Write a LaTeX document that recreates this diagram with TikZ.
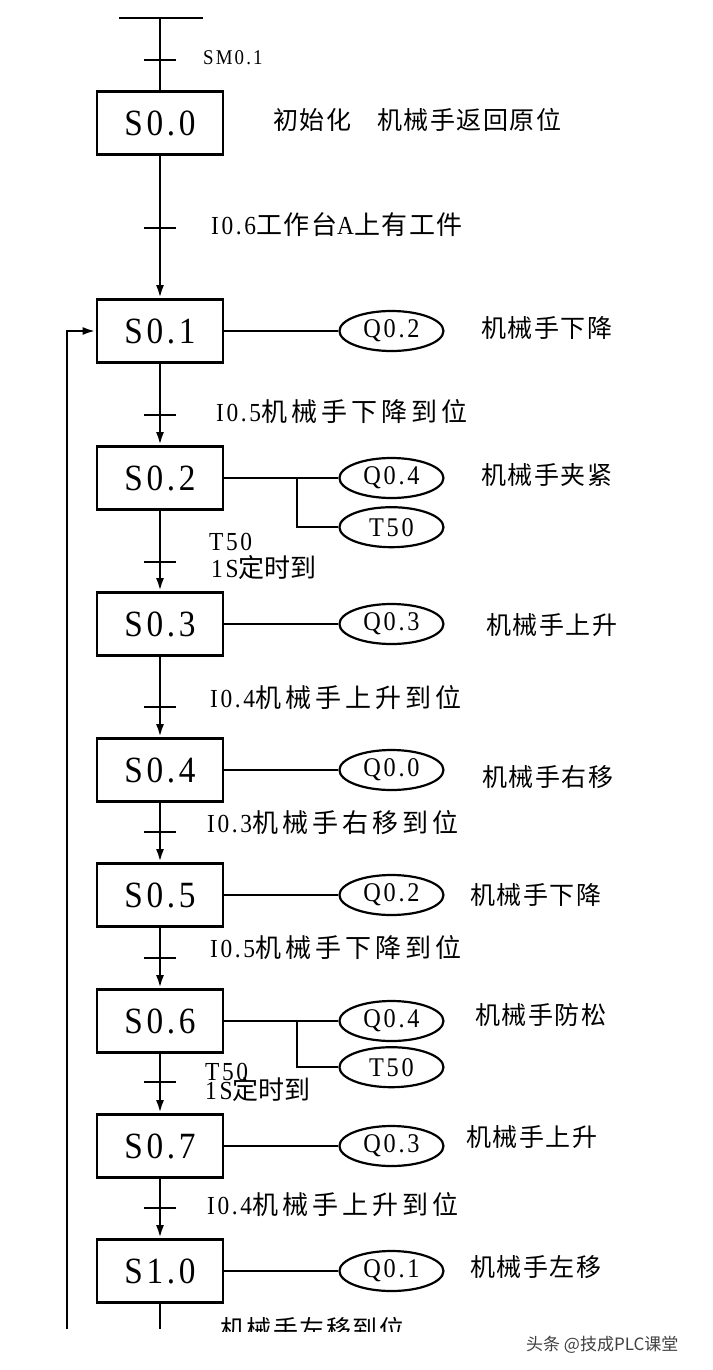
\documentclass[tikz,border=0pt]{standalone}
\usepackage{fontspec}
\newfontfamily\latinfont[FakeStretch=0.9,LetterSpace=10]{Liberation Serif}
\newfontfamily\cjkfont[LetterSpace=6]{Noto Sans CJK SC}
\newfontfamily\cjkwide[LetterSpace=16]{Noto Sans CJK SC}
\newfontfamily\markfont{Noto Sans CJK SC}
\usetikzlibrary{shapes.geometric, arrows.meta, positioning}

\begin{document}
\begin{tikzpicture}[
	x=1pt, y=-1pt,
	stepbox/.style={rectangle, draw=black, line width=2.7pt, minimum width=126pt, minimum height=63pt, inner sep=0pt, font=\latinfont\fontsize{37}{37}\selectfont},
	outbox/.style={ellipse, draw=black, line width=2.2pt, minimum width=104pt, minimum height=40pt, inner sep=0pt, font=\latinfont\fontsize{27}{27}\selectfont},
	arrow/.style={-{Latex[length=13pt,width=8pt]}, line width=2.5pt},
	line/.style={line width=2.5pt},
	tick/.style={line width=2.5pt},
	cond/.style={anchor=west, inner sep=0pt, font=\fontsize{26}{26}\selectfont},
	act/.style={anchor=west, inner sep=0pt, font=\cjkfont\fontsize{25}{25}\selectfont}
	]
	
	\useasboundingbox (0,0) rectangle (712,1370);
	
	% Steps
	\node[stepbox] (s00) at (160,123) {S0.0};
	\node[stepbox] (s01) at (160,331) {S0.1};
	\node[stepbox] (s02) at (160,478) {S0.2};
	\node[stepbox] (s03) at (160,624) {S0.3};
	\node[stepbox] (s04) at (160,770) {S0.4};
	\node[stepbox] (s05) at (160,895) {S0.5};
	\node[stepbox] (s06) at (160,1021) {S0.6};
	\node[stepbox] (s07) at (160,1146) {S0.7};
	\node[stepbox] (s10) at (160,1271) {S1.0};
	
	% Outputs
	\node[outbox, right=114pt of s01] (q01) {Q0.2};
	\node[outbox, right=114pt of s02] (q02) {Q0.4};
	\node[outbox, below=7pt of q02] (tm02) {T50};
	\node[outbox, right=114pt of s03] (q03) {Q0.3};
	\node[outbox, right=114pt of s04] (q04) {Q0.0};
	\node[outbox, right=114pt of s05] (q05) {Q0.2};
	\node[outbox, right=114pt of s06] (q06) {Q0.4};
	\node[outbox, below=4pt of q06] (tm06) {T50};
	\node[outbox, right=114pt of s07] (q07) {Q0.3};
	\node[outbox, right=114pt of s10] (q10) {Q0.1};
	
	% Action texts
	\node[act] (a00) at (273,120) {初始化\hspace{26pt}机械手返回原位};
	\node[act] (a01) at (481,328) {机械手下降};
	\node[act] (a02) at (481,475) {机械手夹紧};
	\node[act] (a03) at (486,625) {机械手上升};
	\node[act] (a04) at (482,777) {机械手右移};
	\node[act] (a05) at (470,895) {机械手下降};
	\node[act] (a06) at (475,1015) {机械手防松};
	\node[act] (a07) at (466,1137) {机械手上升};
	\node[act] (a10) at (470,1267) {机械手左移};
	
	% Transition points
	\coordinate (top) at (160,18);
	\coordinate (topL) at (119,18);
	\coordinate (topR) at (203,18);
	\coordinate (t0) at (160,60);
	\coordinate (t1) at (160,228);
	\coordinate (t2) at (160,415);
	\coordinate (t3) at (160,562);
	\coordinate (t4) at (160,707);
	\coordinate (t5) at (160,832);
	\coordinate (t6) at (160,958);
	\coordinate (t7) at (160,1082);
	\coordinate (t8) at (160,1208);
	\coordinate (bot) at (160,1329);
	\coordinate (back) at (67,1329);
	\coordinate (br2) at (297,478);
	\coordinate (br6) at (297,1021);
	
	% Transition conditions
	\node[cond, font=\latinfont\fontsize{21}{21}\selectfont] (c0) at (203,58) {SM0.1};
	\node[cond] (c1) at (211,225) {{\latinfont I0.6}{\cjkfont 工作台}{\latinfont A}{\cjkfont 上有工件}};
	\node[cond] (c2) at (216,412) {{\latinfont I0.5}{\cjkwide 机械手下降到位}};
	\node[cond] (c3a) at (209,542) {\latinfont T50};
	\node[cond] (c3b) at (211,568) {{\latinfont 1S}{\markfont 定时到}};
	\node[cond] (c4) at (210,698) {{\latinfont I0.4}{\cjkwide 机械手上升到位}};
	\node[cond] (c5) at (207,823) {{\latinfont I0.3}{\cjkwide 机械手右移到位}};
	\node[cond] (c6) at (210,948) {{\latinfont I0.5}{\cjkwide 机械手下降到位}};
	\node[cond] (c7a) at (205,1072) {\latinfont T50};
	\node[cond] (c7b) at (205,1090) {{\latinfont 1S}{\markfont 定时到}};
	\node[cond] (c8) at (207,1205) {{\latinfont I0.4}{\cjkwide 机械手上升到位}};
	\begin{scope}
		\clip (0,0) rectangle (712,1331);
		\node[act] (c9) at (220,1329) {机械手左移到位};
	\end{scope}
	
	% Main flow
	\draw[line] (topL) -- (topR);
	\draw[line] (top) -- (s00);
	\draw[arrow] (s00) -- (s01);
	\draw[arrow] (s01) -- (s02);
	\draw[arrow] (s02) -- (s03);
	\draw[arrow] (s03) -- (s04);
	\draw[arrow] (s04) -- (s05);
	\draw[arrow] (s05) -- (s06);
	\draw[arrow] (s06) -- (s07);
	\draw[arrow] (s07) -- (s10);
	\draw[line] (s10) -- (bot);
	\draw[arrow] (back) |- (s01.west);
	
	% Transition bars
	\foreach \t in {t0,t1,t2,t3,t4,t5,t6,t7,t8}
		\draw[tick] ([xshift=-16pt]\t) -- ([xshift=16pt]\t);
	
	% Output connections
	\draw[line] (s01) -- (q01);
	\draw[line] (s02) -- (q02);
	\draw[line] (br2) |- (tm02);
	\draw[line] (s03) -- (q03);
	\draw[line] (s04) -- (q04);
	\draw[line] (s05) -- (q05);
	\draw[line] (s06) -- (q06);
	\draw[line] (br6) |- (tm06);
	\draw[line] (s07) -- (q07);
	\draw[line] (s10) -- (q10);
	
	% Watermark
	\node[anchor=west, inner sep=0pt, text=black!75, font=\markfont\fontsize{17}{17}\selectfont] (mark) at (526,1345) {头条 @技成PLC课堂};
	
\end{tikzpicture}
\end{document}
